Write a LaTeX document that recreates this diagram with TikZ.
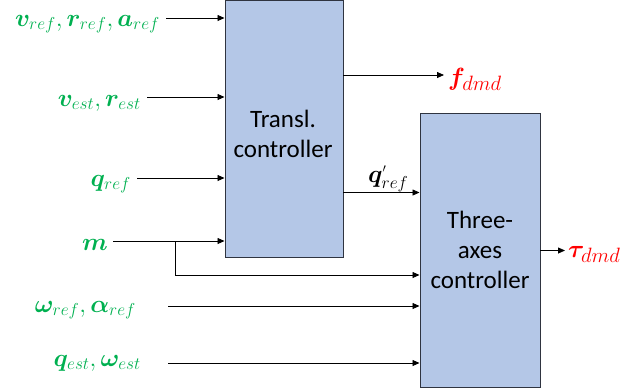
\documentclass[tikz,border=0pt]{standalone}
\usepackage{fontspec}
\setmainfont{Carlito}
\usepackage{amsmath,bm}
\usetikzlibrary{arrows.meta}
\definecolor{boxfill}{HTML}{B4C7E7}
\definecolor{gr}{HTML}{00B050}
\definecolor{bordercol}{HTML}{2F3440}
\tikzset{
  ctrl/.style={draw=bordercol, line width=1pt, fill=boxfill, align=center, inner sep=0pt, font=\fontsize{25}{30}\selectfont},
  arr/.style={-{Triangle[length=7pt,width=6pt]}, line width=0.8pt},
  inlbl/.style={text=gr, anchor=base east, inner sep=0pt, font=\fontsize{27}{27}\selectfont},
  outlbl/.style={text=red, anchor=base west, inner sep=0pt, font=\fontsize{28}{28}\selectfont},
  midlbl/.style={text=black, anchor=base west, inner sep=0pt, font=\fontsize{25}{25}\selectfont}
}
\begin{document}
\begin{tikzpicture}[x=1pt,y=-1pt]
\useasboundingbox (0,0) rectangle (637,389);
% boxes
\node[ctrl, minimum width=118pt, minimum height=257pt] (b1) at (284,128.5) {};
\node[align=center, inner sep=0pt, font=\fontsize{25}{30}\selectfont] (t1) at (283,134) {Transl.\\controller};
\node[ctrl, minimum width=120pt, minimum height=274pt] (b2) at (480,250) {Three-\\axes\\controller};
% input labels
\node[inlbl] (l1) at (160,26) {$\bm{v}_{ref},\bm{r}_{ref},\bm{a}_{ref}$};
\node[inlbl] (l2) at (141,106) {$\bm{v}_{est},\bm{r}_{est}$};
\node[inlbl] (l3) at (131,186) {$\bm{q}_{ref}$};
\node[inlbl] (l4) at (108,250) {$\bm{m}$};
\node[inlbl] (l5) at (136,312) {$\bm{\omega}_{ref},\bm{\alpha}_{ref}$};
\node[inlbl] (l6) at (141,366) {$\bm{q}_{est},\bm{\omega}_{est}$};
% start coordinates
\coordinate (s1) at (166,18);
\coordinate (s2) at (147,97);
\coordinate (s3) at (137,178);
\coordinate (s4) at (113,241);
\coordinate (s5) at (168,306);
\coordinate (s6) at (168,363);
\coordinate (br) at (175,241);
\coordinate (m2) at (175,275);
% inputs
\draw[arr] (s1) -- (s1 -| b1.west);
\draw[arr] (s2) -- (s2 -| b1.west);
\draw[arr] (s3) -- (s3 -| b1.west);
\draw[arr] (s4) -- (s4 -| b1.west);
\draw[line width=0.8pt] (br) -- (m2);
\draw[arr] (m2) -- (m2 -| b2.west);
\draw[arr] (s5) -- (s5 -| b2.west);
\draw[arr] (s6) -- (s6 -| b2.west);
% outputs
\coordinate (fo) at (343,75);
\coordinate (fe) at (444,75);
\draw[arr] (fo) -- (fe);
\node[outlbl] (lf) at (448,85) {$\bm{f}_{dmd}$};
\coordinate (qo) at (343,192.5);
\draw[arr] (qo) -- (qo -| b2.west);
\node[midlbl] (lq) at (368,182) {$\bm{q}^{\scriptscriptstyle\prime}_{ref}$};
\coordinate (to) at (540,250.5);
\coordinate (te) at (565,250.5);
\draw[arr] (to) -- (te);
\node[outlbl] (lt) at (568,257) {$\bm{\tau}_{dmd}$};
\end{tikzpicture}
\end{document}
